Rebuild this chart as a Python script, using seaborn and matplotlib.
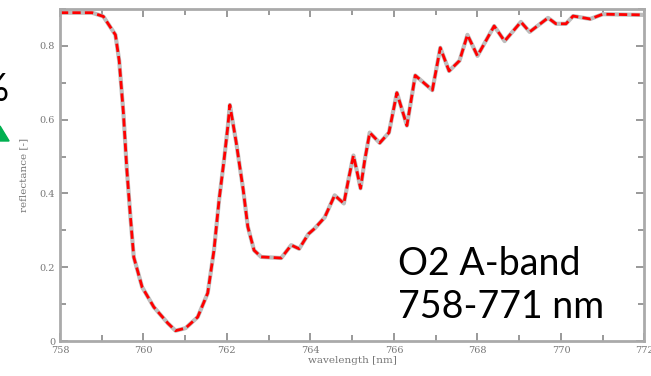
import matplotlib
matplotlib.use("Agg")
import matplotlib.pyplot as plt
from matplotlib.ticker import MultipleLocator
import seaborn as sns
import pandas as pd

# O2 A-band reflectance spectrum
wavelength = [758.0, 758.77, 759.04, 759.33, 759.42, 759.52, 759.6, 759.69, 759.77,
              759.97, 760.25, 760.58, 760.77, 761.01, 761.3, 761.54, 761.69, 761.81,
              761.93, 762.02, 762.07, 762.22, 762.39, 762.5, 762.65, 762.82, 763.3,
              763.54, 763.73, 763.95, 764.1, 764.34, 764.58, 764.8, 764.92, 765.03,
              765.11, 765.2, 765.3, 765.42, 765.66, 765.88, 766.07, 766.31, 766.51,
              766.92, 767.11, 767.32, 767.57, 767.76, 768.0, 768.4, 768.65, 769.04,
              769.25, 769.69, 769.88, 770.12, 770.29, 770.7, 771.0, 772.0]
reflectance = [0.89, 0.89, 0.88, 0.83, 0.76, 0.62, 0.47, 0.335, 0.227,
               0.146, 0.092, 0.049, 0.028, 0.035, 0.065, 0.13, 0.246, 0.38,
               0.49, 0.58, 0.64, 0.54, 0.41, 0.31, 0.246, 0.228, 0.225,
               0.26, 0.25, 0.29, 0.305, 0.335, 0.395, 0.373, 0.443, 0.503,
               0.462, 0.414, 0.49, 0.565, 0.537, 0.565, 0.673, 0.584, 0.72,
               0.68, 0.795, 0.732, 0.76, 0.83, 0.773, 0.854, 0.813, 0.865,
               0.838, 0.876, 0.86, 0.86, 0.881, 0.873, 0.886, 0.884]

band_lines = ["O2 A-band", "758-771 nm"]

df = pd.DataFrame({"wavelength": wavelength, "reflectance": reflectance})

sns.set_theme(style="ticks")
plt.rcParams["font.family"] = ["DejaVu Serif"]

fig = plt.figure(figsize=(6.51, 3.76), dpi=100)
ax = fig.add_axes([0.092, 0.093, 0.898, 0.883])

# grey line under a red dashed one
sns.lineplot(data=df, x="wavelength", y="reflectance", ax=ax, color="#bdbdbd", linewidth=3)
sns.lineplot(data=df, x="wavelength", y="reflectance", ax=ax, color="#ff0000",
             linewidth=2, dashes=[(3, 1.5)], style=[0] * len(df), legend=False)

ax.set_xlim(758, 772)
ax.set_ylim(0, 0.9)
ax.xaxis.set_major_locator(MultipleLocator(2))
ax.xaxis.set_minor_locator(MultipleLocator(1))
ax.yaxis.set_minor_locator(MultipleLocator(0.1))
ax.set_yticks([0, 0.2, 0.4, 0.6, 0.8])
ax.set_yticklabels(["0", "0.2", "0.4", "0.6", "0.8"])

ax.tick_params(which="both", direction="in", top=True, right=True, colors="#888888",
               labelcolor="#777777", labelsize=7, width=1.2)
ax.tick_params(which="major", length=6)
ax.tick_params(which="minor", length=4)
for s in ax.spines.values():
    s.set_color("#aaaaaa")
    s.set_linewidth(2)

ax.set_xlabel("wavelength [nm]", fontsize=7.5, color="#777777", labelpad=1)
ax.set_ylabel("reflectance [-]", fontsize=7.5, color="#777777", labelpad=8)

fig.text(0.612, 0.269, band_lines[0], ha="left", va="baseline", fontsize=27,
         family=["Lato", "DejaVu Sans"], color="black")
fig.text(0.612, 0.154, band_lines[1], ha="left", va="baseline", fontsize=27,
         family=["Lato", "DejaVu Sans"], color="black")

# bits of the slide clipped at the left edge
fig.text(-0.035, 0.76, "%", fontsize=28, family=["Lato", "DejaVu Sans"], color="black",
         ha="left", va="center")
fig.patches.append(plt.Polygon([[0.0, 0.625], [0.014, 0.625], [0.0, 0.665]], closed=True,
                               color="#00b050", transform=fig.transFigure, figure=fig))

fig.savefig("out.png", dpi=100)
